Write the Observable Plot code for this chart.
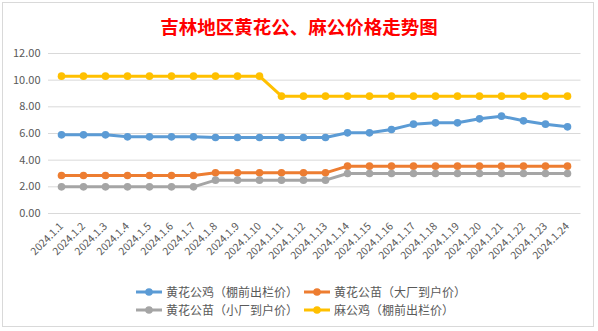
<!DOCTYPE html>
<html><head><meta charset="utf-8">
<script src="https://cdn.jsdelivr.net/npm/d3@7"></script>
<script src="https://cdn.jsdelivr.net/npm/@observablehq/plot@0.6"></script>
<style>
html,body{margin:0;padding:0;background:#fff;}
#wrap{position:relative;width:598px;height:331px;overflow:hidden;font-family:"Noto Sans CJK SC","Noto Sans",sans-serif;}
#frame{position:absolute;left:2px;top:2px;width:592px;height:325px;border:1px solid #d9d9d9;box-sizing:border-box;}
#title{position:absolute;left:0;top:13px;width:598px;text-align:center;color:#ff0000;font-size:18.5px;font-weight:bold;line-height:26px;}
#chart{position:absolute;left:0;top:40px;}
.leg{position:absolute;display:flex;align-items:center;font-size:12px;color:#595959;white-space:nowrap;}
.leg svg{margin-right:3px;}
</style></head>
<body><div id="wrap"><div id="frame"></div><div id="title"></div><div id="chart"></div><div id="legend"></div></div>
<script>
const titleText = "吉林地区黄花公、麻公价格走势图";
const dates = ["2024.1.1","2024.1.2","2024.1.3","2024.1.4","2024.1.5","2024.1.6","2024.1.7","2024.1.8","2024.1.9","2024.1.10","2024.1.11","2024.1.12","2024.1.13","2024.1.14","2024.1.15","2024.1.16","2024.1.17","2024.1.18","2024.1.19","2024.1.20","2024.1.21","2024.1.22","2024.1.23","2024.1.24"];
const seriesNames = ["黄花公鸡（棚前出栏价）","黄花公苗（大厂到户价）","黄花公苗（小厂到户价）","麻公鸡（棚前出栏价）"];
const seriesColors = ["#5B9BD5","#ED7D31","#A5A5A5","#FFC000"];
const huangJi = [5.9,5.9,5.9,5.75,5.75,5.75,5.75,5.7,5.7,5.7,5.7,5.7,5.7,6.05,6.05,6.3,6.7,6.8,6.8,7.1,7.3,6.95,6.7,6.5];
const daChang = [2.85,2.85,2.85,2.85,2.85,2.85,2.85,3.05,3.05,3.05,3.05,3.05,3.05,3.55,3.55,3.55,3.55,3.55,3.55,3.55,3.55,3.55,3.55,3.55];
const xiaoChang = [2.0,2.0,2.0,2.0,2.0,2.0,2.0,2.5,2.5,2.5,2.5,2.5,2.5,3.0,3.0,3.0,3.0,3.0,3.0,3.0,3.0,3.0,3.0,3.0];
const maJi = [10.3,10.3,10.3,10.3,10.3,10.3,10.3,10.3,10.3,10.3,8.8,8.8,8.8,8.8,8.8,8.8,8.8,8.8,8.8,8.8,8.8,8.8,8.8,8.8];
const yTicks = [0,2,4,6,8,10,12];

document.getElementById("title").textContent = titleText;
const allSeries = [huangJi, daChang, xiaoChang, maJi];
const data = [];
allSeries.forEach((vals, s) => vals.forEach((v, i) => data.push({date: dates[i], value: v, series: seriesNames[s]})));

const marks = [Plot.gridY(yTicks, {stroke: "#d9d9d9", strokeOpacity: 1, strokeWidth: 1})];
seriesNames.forEach((name, s) => {
  const d = data.filter(r => r.series === name);
  marks.push(Plot.line(d, {x: "date", y: "value", stroke: seriesColors[s], strokeWidth: 3, strokeLinejoin: "round"}));
  marks.push(Plot.dot(d, {x: "date", y: "value", fill: seriesColors[s], r: 3.8, stroke: "none"}));
});
marks.push(Plot.axisY(yTicks, {tickSize: 0, tickPadding: 8, tickFormat: d3.format(".2f"), fontSize: 11, color: "#595959"}));
marks.push(Plot.axisX({tickSize: 0, tickPadding: 11, tickRotate: -45, fontSize: 10.5, color: "#595959", dx: 0}));

const chart = Plot.plot({
  width: 598, height: 230,
  marginLeft: 48, marginRight: 17.5, marginTop: 13, marginBottom: 57,
  style: {fontFamily: '"Noto Sans CJK SC","Noto Sans",sans-serif', background: "transparent"},
  x: {type: "point", domain: dates, padding: 0.5, label: null},
  y: {domain: [0, 12], label: null},
  marks
});
document.getElementById("chart").appendChild(chart);

const legPos = [[135,283],[303,283],[135,301],[303,301]];
const legend = document.getElementById("legend");
seriesNames.forEach((name, s) => {
  const div = document.createElement("div");
  div.className = "leg";
  div.style.left = legPos[s][0] + "px";
  div.style.top = legPos[s][1] + "px";
  div.innerHTML = `<svg width="28" height="16"><line x1="1" x2="27" y1="8" y2="8" stroke="${seriesColors[s]}" stroke-width="3"/><circle cx="14" cy="8" r="3.8" fill="${seriesColors[s]}"/></svg><span></span>`;
  div.querySelector("span").textContent = name;
  legend.appendChild(div);
});
</script></body></html>
